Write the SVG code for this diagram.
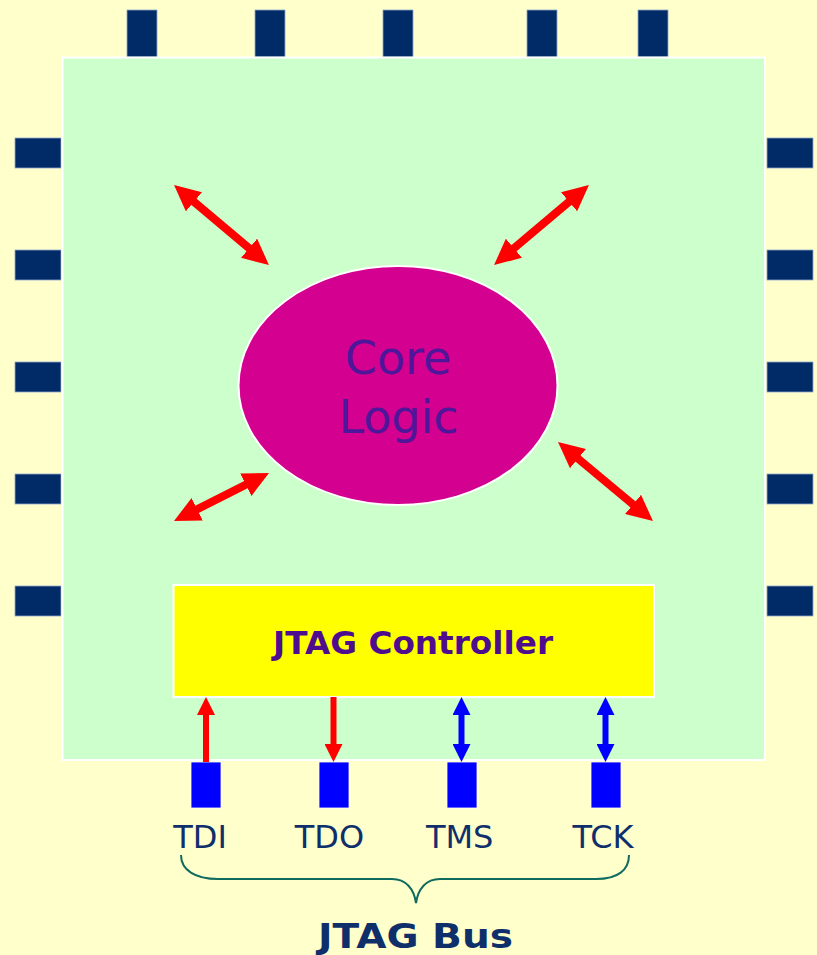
<svg xmlns="http://www.w3.org/2000/svg" width="817" height="955" viewBox="0 0 817 955">
  <style>
    .pin { fill: #002B66; stroke: #8EA6CC; stroke-width: 0.8; }
    .bpin { fill: #0000FF; stroke: #ffffff; stroke-width: 0.8; }
    .red { stroke: #FF0000; stroke-width: 8; fill: none; }
    .reds { stroke: #FF0000; stroke-width: 6; fill: none; }
    .blues { stroke: #0000FF; stroke-width: 6; fill: none; }
    .lbl { font-family: "DejaVu Sans", Verdana, sans-serif; font-size: 32px; fill: #0F2F6B; text-anchor: middle; }
  </style>
  <defs>
    <marker id="hr" markerUnits="userSpaceOnUse" markerWidth="26" markerHeight="25" viewBox="0 0 26 25" refX="13" refY="12.5" orient="auto-start-reverse">
      <path d="M0,0 L26,12.5 L0,25 Z" fill="#FF0000"/>
    </marker>
    <marker id="hrs" markerUnits="userSpaceOnUse" markerWidth="18" markerHeight="18" viewBox="0 0 18 18" refX="9" refY="9" orient="auto-start-reverse">
      <path d="M0,0 L18,9 L0,18 Z" fill="#FF0000"/>
    </marker>
    <marker id="hbs" markerUnits="userSpaceOnUse" markerWidth="18" markerHeight="18" viewBox="0 0 18 18" refX="9" refY="9" orient="auto-start-reverse">
      <path d="M0,0 L18,9 L0,18 Z" fill="#0000FF"/>
    </marker>
  </defs>
  <rect x="0" y="0" width="817" height="955" fill="#FFFFCC"/>

  <g id="pins-top">
    <rect class="pin" x="127" y="10" width="30" height="47"/>
    <rect class="pin" x="255" y="10" width="30" height="47"/>
    <rect class="pin" x="383" y="10" width="30" height="47"/>
    <rect class="pin" x="527" y="10" width="30" height="47"/>
    <rect class="pin" x="638" y="10" width="30" height="47"/>
  </g>
  <g id="pins-left">
    <rect class="pin" x="15" y="138" width="46" height="30"/>
    <rect class="pin" x="15" y="250" width="46" height="30"/>
    <rect class="pin" x="15" y="362" width="46" height="30"/>
    <rect class="pin" x="15" y="474" width="46" height="30"/>
    <rect class="pin" x="15" y="586" width="46" height="30"/>
  </g>
  <g id="pins-right">
    <rect class="pin" x="767" y="138" width="46" height="30"/>
    <rect class="pin" x="767" y="250" width="46" height="30"/>
    <rect class="pin" x="767" y="362" width="46" height="30"/>
    <rect class="pin" x="767" y="474" width="46" height="30"/>
    <rect class="pin" x="767" y="586" width="46" height="30"/>
  </g>

  <g id="chip">
    <rect x="62.5" y="57.5" width="702.5" height="702.5" fill="#CCFFCC" stroke="#ffffff" stroke-width="2"/>
  </g>

  <g id="core-logic">
    <ellipse cx="398" cy="385.5" rx="159.5" ry="119.5" fill="#D4008F" stroke="#ffffff" stroke-width="2"/>
    <text x="398" y="374" font-family="DejaVu Sans, Verdana, sans-serif" font-size="46" fill="#4E1699" text-anchor="middle">Core</text>
    <text x="398.5" y="433" font-family="DejaVu Sans, Verdana, sans-serif" font-size="46" fill="#4E1699" text-anchor="middle">Logic</text>
  </g>

  <g id="jtag-controller">
    <rect x="173.5" y="585" width="480.5" height="112" fill="#FFFF00" stroke="#ffffff" stroke-width="2"/>
    <text x="413" y="654" font-family="DejaVu Sans, Verdana, sans-serif" font-size="32" font-weight="bold" fill="#4E0C8F" text-anchor="middle" textLength="280" lengthAdjust="spacingAndGlyphs">JTAG Controller</text>
  </g>

  <g id="bus-pins">
    <rect class="bpin" x="191" y="762" width="30" height="46"/>
    <rect class="bpin" x="319" y="762" width="30" height="46"/>
    <rect class="bpin" x="447" y="762" width="30" height="46"/>
    <rect class="bpin" x="591" y="762" width="30" height="46"/>
  </g>

  <g id="connectors">
    <line class="red" x1="184" y1="193.4" x2="259" y2="256.6" marker-start="url(#hr)" marker-end="url(#hr)"/>
    <line class="red" x1="579" y1="193.4" x2="504" y2="256.6" marker-start="url(#hr)" marker-end="url(#hr)"/>
    <line class="red" x1="257.4" y1="478.9" x2="185.6" y2="515.1" marker-start="url(#hr)" marker-end="url(#hr)"/>
    <line class="red" x1="568" y1="450.3" x2="643" y2="512.7" marker-start="url(#hr)" marker-end="url(#hr)"/>
    <line class="reds" x1="206" y1="762" x2="206" y2="706" marker-end="url(#hrs)"/>
    <line class="reds" x1="333.5" y1="697" x2="333.5" y2="753" marker-end="url(#hrs)"/>
    <line class="blues" x1="461.5" y1="706" x2="461.5" y2="753" marker-start="url(#hbs)" marker-end="url(#hbs)"/>
    <line class="blues" x1="605.5" y1="706" x2="605.5" y2="753" marker-start="url(#hbs)" marker-end="url(#hbs)"/>
    <path d="M181,855 C181,870 195,879 218,879 L392,879 C406,879 414,889 416,903 C418,889 426,879 440,879 L596,879 C618,879 629,870 629,855" fill="none" stroke="#0E6B5E" stroke-width="2"/>
  </g>

  <g id="labels">
    <text class="lbl" x="200" y="848">TDI</text>
    <text class="lbl" x="329.5" y="848">TDO</text>
    <text class="lbl" x="459.7" y="848">TMS</text>
    <text class="lbl" x="603" y="848">TCK</text>
    <text x="415.5" y="948" font-family="DejaVu Sans, Verdana, sans-serif" font-size="34" font-weight="bold" fill="#0F2F6B" text-anchor="middle" textLength="195" lengthAdjust="spacingAndGlyphs">JTAG Bus</text>
  </g>
</svg>
